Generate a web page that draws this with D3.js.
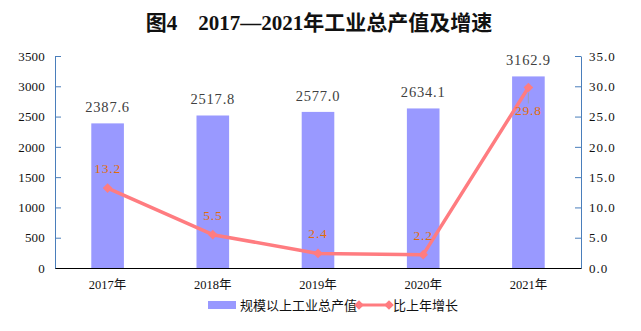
<!DOCTYPE html>
<html>
<head>
<meta charset="utf-8">
<script src="https://cdn.jsdelivr.net/npm/d3@7/dist/d3.min.js"></script>
<style>
  body { margin: 0; background: #fff; }
  svg { display: block; }
</style>
</head>
<body>
<svg id="chart" width="641" height="331"></svg>
<script>
const years = ["2017年", "2018年", "2019年", "2020年", "2021年"];
const outputValues = [2387.6, 2517.8, 2577.0, 2634.1, 3162.9];
const growthRates = [13.2, 5.5, 2.4, 2.2, 29.8];
const leftTicks = [0, 500, 1000, 1500, 2000, 2500, 3000, 3500];
const rightTicks = [0, 5, 10, 15, 20, 25, 30, 35];
const seriesNames = ["规模以上工业总产值", "比上年增长"];

const svg = d3.select("#chart");
const margin = { left: 55, right: 60, top: 56, bottom: 63 };
const W = 641, H = 331;
const x0 = margin.left, x1 = W - margin.right;
const yTop = margin.top, yBot = H - margin.bottom;

const numFont = "'Liberation Serif', 'Noto Sans CJK SC', serif";
const cjkFont = "'Noto Sans CJK SC', sans-serif";

const x = d3.scaleBand().domain(years).range([x0, x1]).paddingInner(0).paddingOuter(0);
const yL = d3.scaleLinear().domain([0, 3500]).range([yBot, yTop]);
const yR = d3.scaleLinear().domain([0, 35]).range([yBot, yTop]);
const barW = x.bandwidth() * 0.31;
const cx = i => x(years[i]) + x.bandwidth() / 2;

// title
svg.append("text")
  .attr("x", 319).attr("y", 30)
  .attr("text-anchor", "middle")
  .style("font-family", numFont)
  .style("font-weight", "bold").style("font-size", "21px").attr("fill", "#111")
  .text("图4　2017—2021年工业总产值及增速");

// left axis
const axL = svg.append("g").attr("transform", `translate(${x0},0)`)
  .call(d3.axisLeft(yL).tickValues(leftTicks).tickFormat(d3.format("d"))
    .tickSizeInner(-6).tickSizeOuter(0).tickPadding(10));
axL.select(".domain").attr("stroke", "#4a7ebb");
axL.selectAll(".tick line").attr("stroke", "#4a7ebb");
axL.selectAll(".tick text").style("font-family", numFont).style("font-size", "13px")
  .style("letter-spacing", "0.2px").attr("fill", "#111");

// right axis
const axR = svg.append("g").attr("transform", `translate(${x1},0)`)
  .call(d3.axisRight(yR).tickValues(rightTicks).tickFormat(d3.format(".1f"))
    .tickSizeInner(-6).tickSizeOuter(0).tickPadding(8));
axR.select(".domain").attr("stroke", "#4a7ebb");
axR.selectAll(".tick line").attr("stroke", "#4a7ebb");
axR.selectAll(".tick text").style("font-family", numFont).style("font-size", "13px")
  .style("letter-spacing", "1px").attr("fill", "#111");

// bars
svg.append("g").selectAll("rect").data(outputValues).join("rect")
  .attr("x", (d, i) => cx(i) - barW / 2)
  .attr("y", d => yL(d))
  .attr("width", barW)
  .attr("height", d => yBot - yL(d))
  .attr("fill", "#9999ff");

// bottom axis
const axB = svg.append("g").attr("transform", `translate(0,${yBot})`)
  .call(d3.axisBottom(x).tickSize(0).tickPadding(12));
axB.select(".domain").attr("stroke", "#000").attr("stroke-width", 1.2);
axB.selectAll(".tick text").style("font-family", numFont).style("font-size", "12.5px").attr("fill", "#111");

// bar value labels
svg.append("g").selectAll("text").data(outputValues).join("text")
  .attr("x", (d, i) => cx(i))
  .attr("y", d => yL(d) - 11)
  .attr("text-anchor", "middle")
  .style("font-family", numFont).style("font-size", "14.5px")
  .style("letter-spacing", "0.8px").attr("fill", "#404040")
  .text(d => d.toFixed(1));

// growth line
const line = d3.line().x((d, i) => cx(i)).y(d => yR(d));
svg.append("path").datum(growthRates)
  .attr("d", line).attr("fill", "none")
  .attr("stroke", "#ff7c80").attr("stroke-width", 3.5).attr("stroke-linejoin", "round");
const diamond = d3.symbol().type(d3.symbolDiamond2).size(60);
svg.append("g").selectAll("path").data(growthRates).join("path")
  .attr("transform", (d, i) => `translate(${cx(i)},${yR(d)})`)
  .attr("d", diamond).attr("fill", "#ff7c80");

// growth labels (last one sits below its point with a short leader)
const last = growthRates.length - 1;
const labelOffset = (d, i) => i === last ? 28 : -15;
svg.append("line")
  .attr("x1", cx(last)).attr("x2", cx(last))
  .attr("y1", yR(growthRates[last]) + 5).attr("y2", yR(growthRates[last]) + 16)
  .attr("stroke", "#a0a0a0").attr("stroke-width", 0.8);
svg.append("g").selectAll("text").data(growthRates).join("text")
  .attr("x", (d, i) => cx(i))
  .attr("y", (d, i) => yR(d) + labelOffset(d, i))
  .attr("text-anchor", "middle")
  .style("font-family", numFont).style("font-size", "13.5px")
  .style("letter-spacing", "0.8px").attr("fill", "#e36c0a")
  .text(d => d.toFixed(1));

// legend
const lg = svg.append("g").attr("transform", `translate(0,305)`);
lg.append("rect").attr("x", 208).attr("y", -4).attr("width", 28).attr("height", 8).attr("fill", "#9999ff");
lg.append("text").attr("x", 240).attr("y", 0).attr("dy", "0.35em")
  .style("font-family", cjkFont).style("font-size", "13px").attr("fill", "#111").text(seriesNames[0]);
lg.append("line").attr("x1", 359).attr("x2", 389).attr("y1", 0).attr("y2", 0)
  .attr("stroke", "#ff7c80").attr("stroke-width", 3);
[359, 389].forEach(px => lg.append("path").attr("transform", `translate(${px},0)`)
  .attr("d", diamond).attr("fill", "#ff7c80"));
lg.append("text").attr("x", 393).attr("y", 0).attr("dy", "0.35em")
  .style("font-family", cjkFont).style("font-size", "13px").attr("fill", "#111").text(seriesNames[1]);
</script>
</body>
</html>
